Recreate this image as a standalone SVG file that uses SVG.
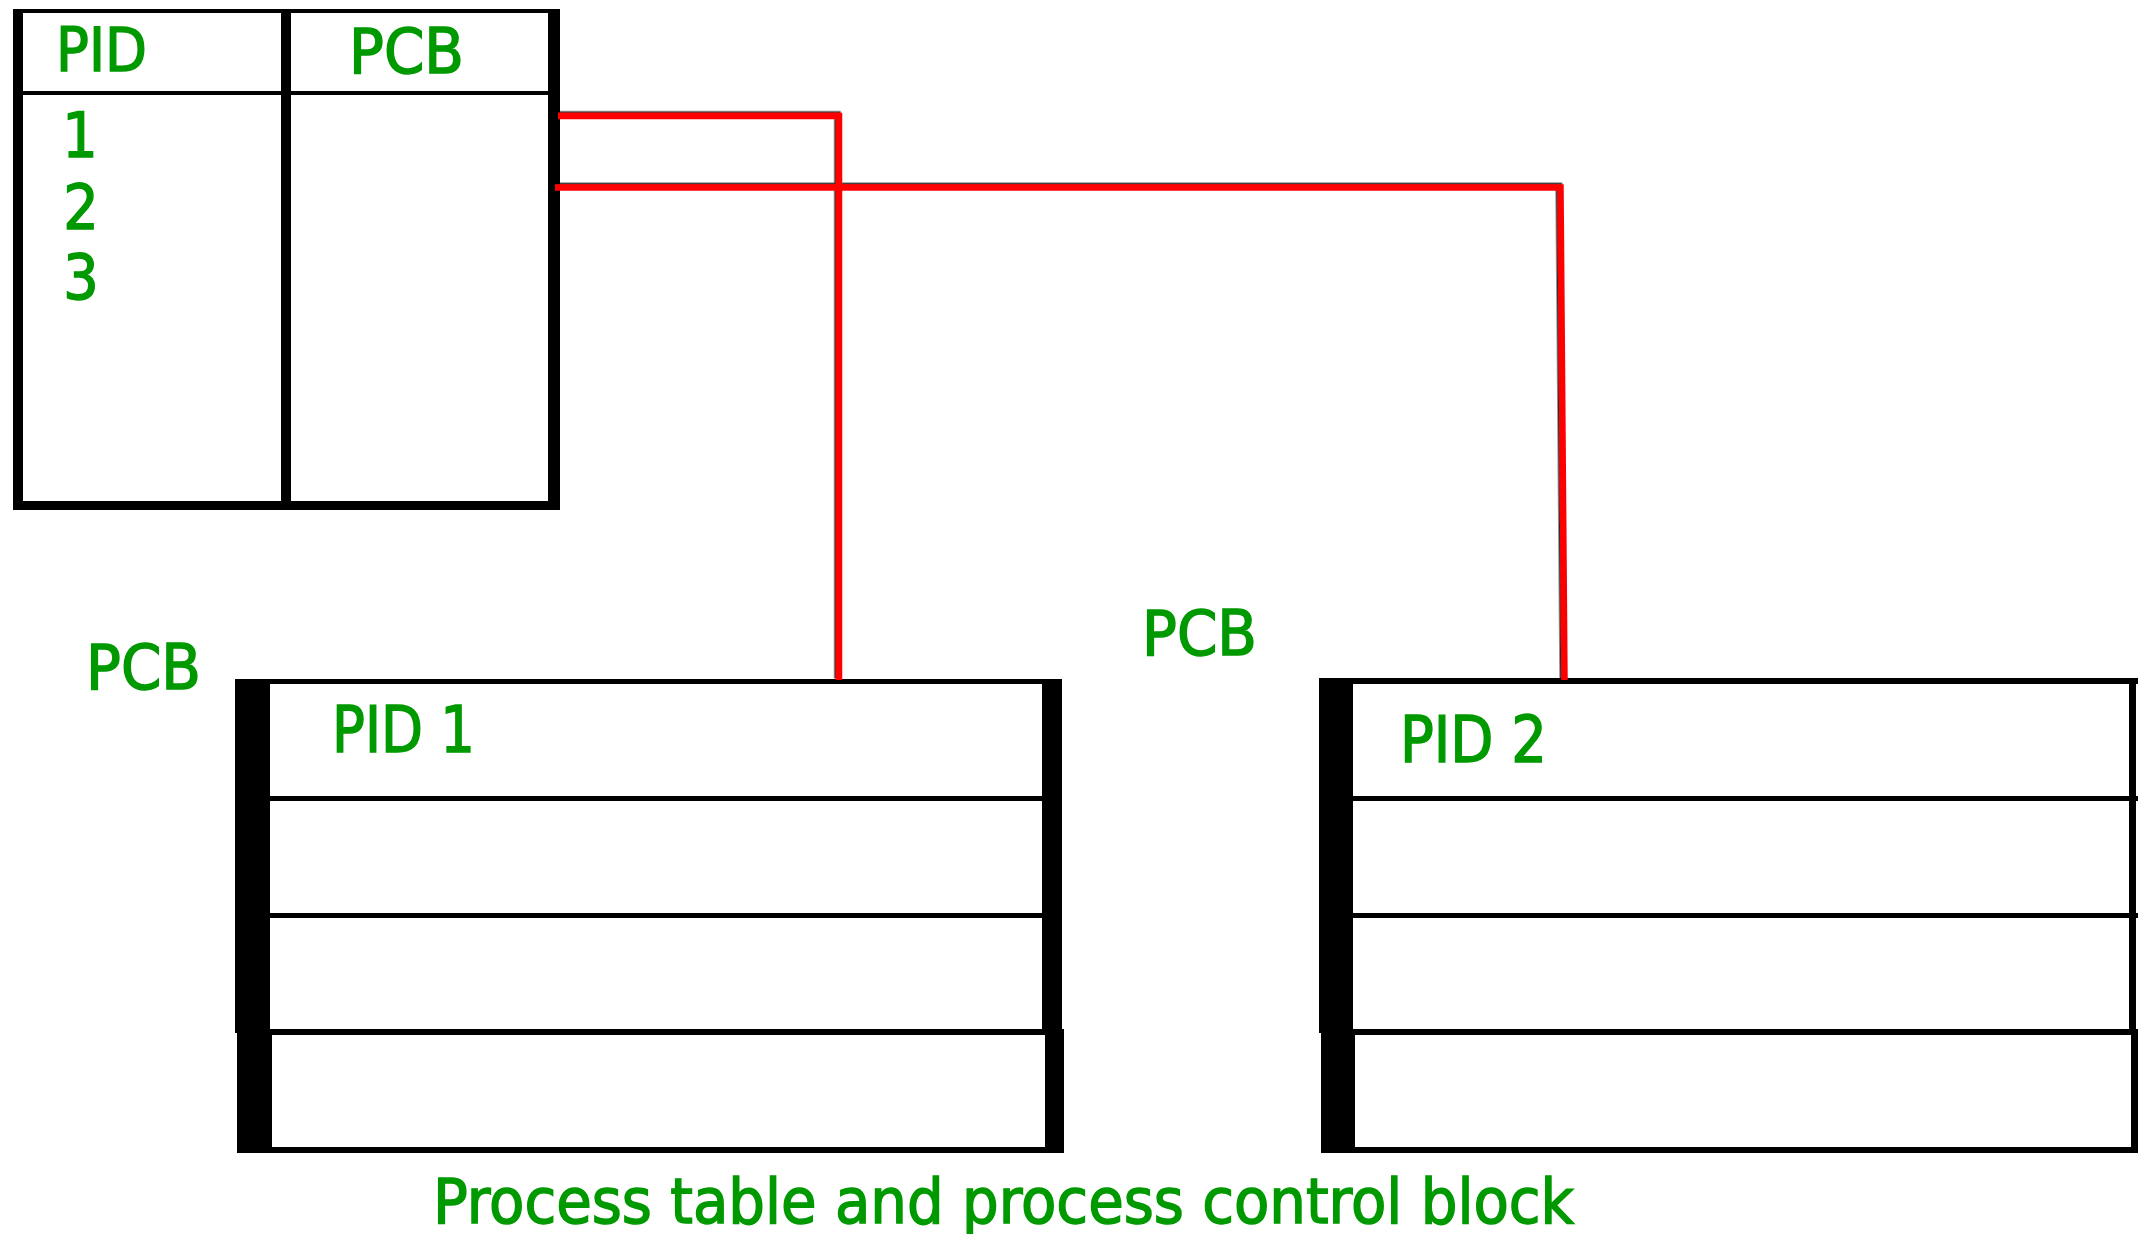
<svg xmlns="http://www.w3.org/2000/svg" width="2138" height="1234" viewBox="0 0 2138 1234">
  <defs>
    <style>
      .bd { fill: #000; }
      .lbl { fill: #009900; stroke: #009900; stroke-width: 1.4; font-family: "DejaVu Sans Condensed", "DejaVu Sans", sans-serif; font-stretch: condensed; }
      .link { fill: none; stroke: #ff0000; stroke-width: 6.5; stroke-linejoin: miter; }
    </style>
    <filter id="edge" x="-5%" y="-5%" width="110%" height="110%">
      <feDropShadow dx="-1.5" dy="-1.5" stdDeviation="0" flood-color="#000" flood-opacity="0.85"/>
    </filter>
  </defs>

  <rect width="2138" height="1234" fill="#fff"/>

  <!-- Process table: PID / PCB columns -->
  <g id="process-table">
    <rect class="bd" x="13" y="9" width="547" height="4"/>
    <rect class="bd" x="13" y="9" width="10" height="501"/>
    <rect class="bd" x="548" y="9" width="12" height="501"/>
    <rect class="bd" x="13" y="501" width="547" height="9"/>
    <rect class="bd" x="281" y="9" width="10" height="501"/>
    <rect class="bd" x="13" y="91" width="547" height="4"/>
    <text class="lbl" x="56" y="71" font-size="61" textLength="91" lengthAdjust="spacingAndGlyphs">PID</text>
    <text class="lbl" x="349" y="73" font-size="62" textLength="115" lengthAdjust="spacingAndGlyphs">PCB</text>
    <text class="lbl" x="80" y="157" font-size="62" text-anchor="middle">1</text>
    <text class="lbl" x="81" y="229" font-size="62" text-anchor="middle">2</text>
    <text class="lbl" x="81" y="299" font-size="62" text-anchor="middle">3</text>
  </g>

  <!-- Process control block for PID 1 -->
  <g id="pcb-1">
    <rect class="bd" x="235" y="679" width="827" height="5"/>
    <rect class="bd" x="235" y="679" width="35" height="354"/>
    <rect class="bd" x="1042" y="679" width="20" height="354"/>
    <rect class="bd" x="235" y="796" width="827" height="5"/>
    <rect class="bd" x="235" y="913" width="827" height="5"/>
    <rect class="bd" x="237" y="1029" width="827" height="6"/>
    <rect class="bd" x="237" y="1029" width="35" height="124"/>
    <rect class="bd" x="1045" y="1029" width="19" height="124"/>
    <rect class="bd" x="237" y="1147" width="827" height="6"/>
    <text class="lbl" x="332" y="752" font-size="64" textLength="143" lengthAdjust="spacingAndGlyphs">PID 1</text>
  </g>

  <!-- Process control block for PID 2 -->
  <g id="pcb-2">
    <rect class="bd" x="1319" y="678" width="819" height="6"/>
    <rect class="bd" x="1319" y="678" width="34" height="355"/>
    <rect class="bd" x="2129" y="678" width="7" height="355"/>
    <rect class="bd" x="1319" y="796" width="819" height="5"/>
    <rect class="bd" x="1319" y="913" width="819" height="5"/>
    <rect class="bd" x="1321" y="1029" width="817" height="6"/>
    <rect class="bd" x="1321" y="1029" width="34" height="124"/>
    <rect class="bd" x="2131" y="1029" width="7" height="124"/>
    <rect class="bd" x="1321" y="1147" width="817" height="6"/>
    <text class="lbl" x="1400" y="762" font-size="64" textLength="147" lengthAdjust="spacingAndGlyphs">PID 2</text>
  </g>

  <!-- Free-standing labels -->
  <g id="labels">
    <text class="lbl" x="86" y="689" font-size="62" textLength="115" lengthAdjust="spacingAndGlyphs">PCB</text>
    <text class="lbl" x="1142" y="655" font-size="62" textLength="115" lengthAdjust="spacingAndGlyphs">PCB</text>
    <text class="lbl" x="433" y="1223" font-size="63" textLength="1141" lengthAdjust="spacingAndGlyphs">Process table and process control block</text>
  </g>

  <!-- Pointers from table rows to their PCBs -->
  <g id="connectors" filter="url(#edge)">
    <path class="link" d="M 558 116 H 839 V 680"/>
    <path class="link" stroke-width="5.5" d="M 555 187.5 H 1560.5 L 1564.5 680"/>
  </g>
</svg>
